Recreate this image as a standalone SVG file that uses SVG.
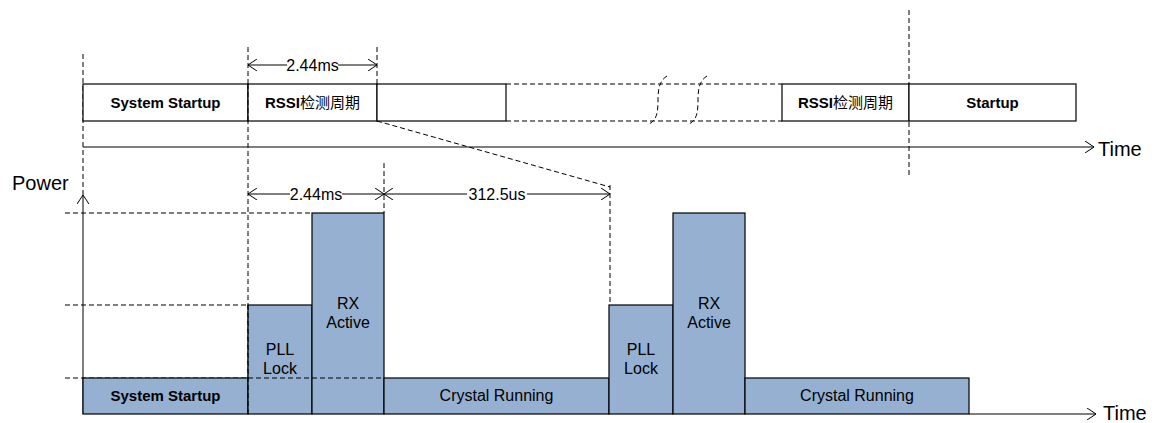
<svg xmlns="http://www.w3.org/2000/svg" width="1160" height="423" viewBox="0 0 1160 423">
<style>
.box{fill:#fff;stroke:#000;stroke-width:1.2}
.bar{fill:#95b0d0;stroke:#000;stroke-width:1.2}
.dash{fill:none;stroke:#000;stroke-width:1;stroke-dasharray:5 3}
.ln{fill:none;stroke:#000;stroke-width:1}
.t{font-family:"Liberation Sans",Arial,"Noto Sans CJK SC",sans-serif;fill:#000;text-anchor:middle}
.b{font-weight:bold;font-size:15px}
.r{font-size:16px}
.cjk{font-family:"Noto Sans CJK SC",sans-serif;font-weight:normal}
.ax{font-family:"Liberation Sans",Arial,sans-serif;font-size:20px;fill:#000}
</style>
<defs>
<marker id="arr" viewBox="0 0 9 12" refX="9" refY="6" markerWidth="9" markerHeight="12" markerUnits="userSpaceOnUse" orient="auto-start-reverse">
<path d="M0,0 L9,6 L0,12" fill="none" stroke="#000" stroke-width="1"/>
</marker>
</defs>

<g id="connectors">
<!-- guide dashed lines -->
<line class="dash" x1="83" y1="54" x2="83" y2="195"/>
<line class="dash" x1="248" y1="47" x2="248" y2="414"/>
<line class="dash" x1="377" y1="47" x2="377" y2="84"/>
<line class="dash" x1="909" y1="10" x2="909" y2="178"/>
<line class="dash" x1="384" y1="163" x2="384" y2="213"/>
<line class="dash" x1="610" y1="185" x2="610" y2="305"/>
<line class="dash" x1="377" y1="121" x2="610" y2="187"/>
<line class="dash" x1="65" y1="213" x2="312" y2="213"/>
<line class="dash" x1="65" y1="305" x2="248" y2="305"/>
<line class="dash" x1="65" y1="378" x2="384" y2="378"/>
<!-- time axis top -->
<line class="ln" x1="83" y1="147" x2="1094" y2="147" marker-end="url(#arr)"/>
<text class="ax" x="1098" y="156">Time</text>
<!-- power axis -->
<line class="ln" x1="83" y1="414" x2="83" y2="195" marker-end="url(#arr)"/>
<text class="ax" x="12" y="190" font-size="21">Power</text>
<!-- bottom time axis -->
<line class="ln" x1="969" y1="414" x2="1096" y2="414" marker-end="url(#arr)"/>
<text class="ax" x="1103" y="420">Time</text>
<!-- dimension top 2.44ms -->
<line class="ln" x1="248" y1="65" x2="377" y2="65" marker-start="url(#arr)" marker-end="url(#arr)"/>
<rect x="287" y="58" width="51" height="14" fill="#fff"/>
<text class="t r" x="312.5" y="71">2.44ms</text>
<!-- dimension bottom 2.44ms -->
<line class="ln" x1="248" y1="194" x2="384" y2="194" marker-start="url(#arr)" marker-end="url(#arr)"/>
<rect x="290" y="187" width="52" height="14" fill="#fff"/>
<text class="t r" x="316" y="200">2.44ms</text>
<!-- dimension 312.5us -->
<line class="ln" x1="384" y1="194" x2="610" y2="194" marker-start="url(#arr)" marker-end="url(#arr)"/>
<rect x="467" y="187" width="60" height="14" fill="#fff"/>
<text class="t r" x="497" y="200">312.5us</text>
</g>

<g id="top-system-startup">
<rect class="box" x="83" y="84" width="165" height="37"/>
<text class="t b" x="165.5" y="108">System Startup</text>
</g>
<g id="top-rssi-1">
<rect class="box" x="248" y="84" width="129" height="37"/>
<text class="t b" x="312.5" y="108">RSSI<tspan class="cjk">检测周期</tspan></text>
</g>
<g id="top-idle">
<rect class="box" x="377" y="84" width="129" height="37"/>
</g>
<g id="top-gap">
<line class="dash" x1="506" y1="84" x2="782" y2="84"/>
<line class="dash" x1="506" y1="121" x2="782" y2="121"/>
<path class="dash" d="M667,76 C659,81 658,90 658,100 C658,112 657,120 649,124"/>
<path class="dash" d="M707,76 C699,81 698,90 698,100 C698,112 697,120 689,124"/>
</g>
<g id="top-rssi-2">
<rect class="box" x="782" y="84" width="127" height="37"/>
<text class="t b" x="845.5" y="108">RSSI<tspan class="cjk">检测周期</tspan></text>
</g>
<g id="top-startup">
<rect class="box" x="909" y="84" width="167" height="37"/>
<text class="t b" x="992.5" y="108">Startup</text>
</g>

<g id="bar-system-startup">
<rect class="bar" x="83" y="378" width="165" height="36"/>
<text class="t b" x="165.5" y="401">System Startup</text>
</g>
<g id="bar-pll-1">
<rect class="bar" x="248" y="305" width="64" height="109"/>
<text class="t r" x="280" y="355">PLL</text>
<text class="t r" x="280" y="374">Lock</text>
</g>
<g id="bar-rx-1">
<rect class="bar" x="312" y="213" width="72" height="201"/>
<text class="t r" x="348" y="309">RX</text>
<text class="t r" x="348" y="328">Active</text>
</g>
<g id="bar-crystal-1">
<rect class="bar" x="384" y="378" width="225" height="36"/>
<text class="t r" x="496.5" y="401">Crystal Running</text>
</g>
<g id="bar-pll-2">
<rect class="bar" x="609" y="305" width="64" height="109"/>
<text class="t r" x="641" y="355">PLL</text>
<text class="t r" x="641" y="374">Lock</text>
</g>
<g id="bar-rx-2">
<rect class="bar" x="673" y="213" width="72" height="201"/>
<text class="t r" x="709" y="309">RX</text>
<text class="t r" x="709" y="328">Active</text>
</g>
<g id="bar-crystal-2">
<rect class="bar" x="745" y="378" width="224" height="36"/>
<text class="t r" x="857" y="401">Crystal Running</text>
</g>

<g id="overlay-guides">
<line class="dash" x1="248" y1="305" x2="248" y2="414"/>
<line class="dash" x1="248" y1="378" x2="384" y2="378"/>
<line class="dash" x1="248" y1="84" x2="248" y2="121"/>
</g>
</svg>
